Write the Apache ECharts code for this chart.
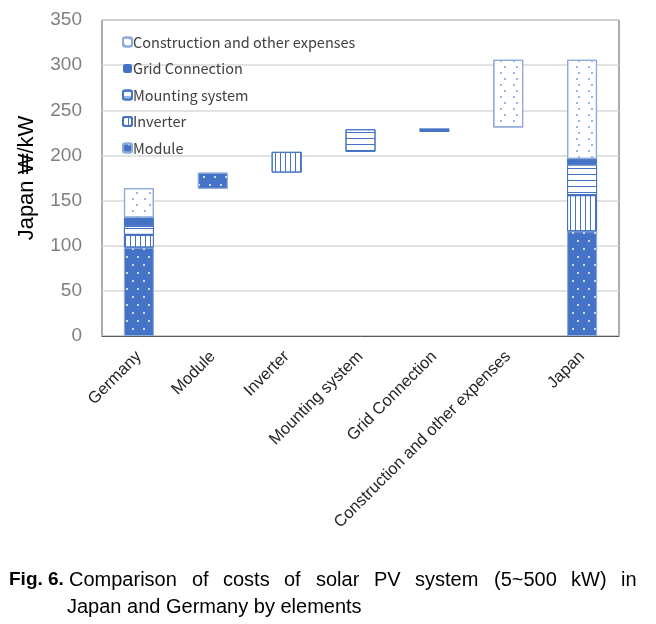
<!DOCTYPE html>
<html>
<head>
<meta charset="utf-8">
<script src="https://cdn.jsdelivr.net/npm/echarts@6/dist/echarts.min.js"></script>
<style>
html,body{margin:0;padding:0;background:#fff;}
#chart{width:656px;height:624px;}
</style>
</head>
<body>
<div id="chart"></div>
<script>
// ---- data ----
const categories = ['Germany', 'Module', 'Inverter', 'Mounting system', 'Grid Connection', 'Construction and other expenses', 'Japan'];
const components = ['Module', 'Inverter', 'Mounting system', 'Grid Connection', 'Construction and other expenses'];
const germanyValues = [98, 14, 10, 9, 33];
const japanValues = [116, 40, 34, 6, 110];
const stepBase = [163, 181, 204, 226, 231];
const stepValues = [18, 23, 25, 4, 75];
const yTicks = [0, 50, 100, 150, 200, 250, 300, 350];
const captionBold = 'Fig. 6.';
const captionLine1 = 'Comparison of costs of solar PV system (5~500 kW) in';
const captionLine2 = 'Japan and Germany by elements';

const BLUE = '#4472C4';
const LIGHT = '#8FAADC';

const styles = [
  { color: BLUE, borderColor: LIGHT, borderWidth: 1,
    decal: { symbol: 'rect', symbolSize: 1, color: 'rgba(255,255,255,0.75)', dashArrayX: [[1.2, 8.8], [0, 5, 1.2, 3.8]], dashArrayY: [1.2, 5.5] } },
  { color: '#ffffff', borderColor: BLUE, borderWidth: 1,
    decal: { symbol: 'rect', symbolSize: 1, color: BLUE, dashArrayX: [1, 3.8], dashArrayY: [1, 0] } },
  { color: '#ffffff', borderColor: BLUE, borderWidth: 1,
    decal: { symbol: 'rect', symbolSize: 1, color: BLUE, dashArrayX: [1, 0], dashArrayY: [1, 4.6] } },
  { color: BLUE, borderColor: BLUE, borderWidth: 0 },
  { color: '#ffffff', borderColor: LIGHT, borderWidth: 1.2,
    decal: { symbol: 'rect', symbolSize: 1, color: '#9DB5E0', dashArrayX: [[1.2, 9.8], [0, 5.5, 1.2, 4.3]], dashArrayY: [1.2, 4] } }
];

const baseData = [0].concat(stepBase).concat([0]);

const series = [{
  name: 'base', type: 'bar', stack: 'total', barWidth: 30,
  itemStyle: { color: 'transparent', borderWidth: 0 },
  emphasis: { disabled: true },
  data: baseData, silent: true
}];

components.forEach(function (comp, i) {
  const d = categories.map(function (c, ci) {
    if (ci === 0) return germanyValues[i];
    if (ci === 6) return japanValues[i];
    if (ci === i + 1) return stepValues[i];
    return '-';
  });
  series.push({
    name: comp, type: 'bar', stack: 'total', barWidth: 30,
    itemStyle: styles[i],
    data: d
  });
});

// justified first caption line
const capFont = '20px "Liberation Sans"';
const cv = document.createElement('canvas').getContext('2d');
cv.font = capFont;
const words = captionLine1.split(' ');
const lineStart = 69, lineEnd = 637;
const wordW = words.map(function (w) { return cv.measureText(w).width; });
const totalW = wordW.reduce(function (a, b) { return a + b; }, 0);
const gap = (lineEnd - lineStart - totalW) / (words.length - 1);
const graphics = [
  { type: 'text', left: 9, top: 570, style: { text: captionBold, fontFamily: 'Liberation Sans', fontWeight: 'bold', fontSize: 19, fill: '#000' } },
  { type: 'text', left: 67, top: 597, style: { text: captionLine2, fontFamily: 'Liberation Sans', fontSize: 20, fill: '#000' } }
];
let xPos = lineStart;
words.forEach(function (w, i) {
  graphics.push({ type: 'text', left: Math.round(xPos), top: 570, style: { text: w, fontFamily: 'Liberation Sans', fontSize: 20, fill: '#000' } });
  xPos += wordW[i] + gap;
});

const chart = echarts.init(document.getElementById('chart'), null, { renderer: 'canvas' });
chart.setOption({
  animation: false,
  backgroundColor: '#ffffff',
  grid: { left: 102, right: 37, top: 20, bottom: 288, show: true, borderColor: '#595959', borderWidth: 1, backgroundColor: 'transparent' },
  legend: {
    orient: 'vertical', left: 117, top: 29,
    data: components.slice().reverse(),
    itemWidth: 9, itemHeight: 9, itemGap: 10.5,
    textStyle: { fontFamily: 'Noto Sans CJK KR', fontSize: 14.5, color: '#404040', lineHeight: 16, padding: [0, 0, 0, -4] }
  },
  xAxis: {
    type: 'category', data: categories,
    axisTick: { show: false },
    axisLine: { show: true, lineStyle: { color: '#595959' } },
    axisLabel: { interval: 0, rotate: 45, margin: 18, fontFamily: 'Liberation Sans', fontSize: 16.5, color: '#262626' }
  },
  yAxis: {
    type: 'value', min: 0, max: 350, interval: 50,
    name: 'Japan ₩/kW', nameLocation: 'middle', nameGap: 64,
    nameTextStyle: { fontFamily: 'Liberation Sans', fontSize: 22, color: '#000000' },
    axisLine: { show: false }, axisTick: { show: false },
    axisLabel: { margin: 20, fontFamily: 'Liberation Sans', fontSize: 19, color: '#7f7f7f',
      formatter: function (v) { return yTicks.indexOf(v) >= 0 ? String(v) : ''; } },
    splitLine: { lineStyle: { color: '#d9d9d9', width: 1.5 } }
  },
  series: series,
  graphic: graphics
});
</script>
</body>
</html>
